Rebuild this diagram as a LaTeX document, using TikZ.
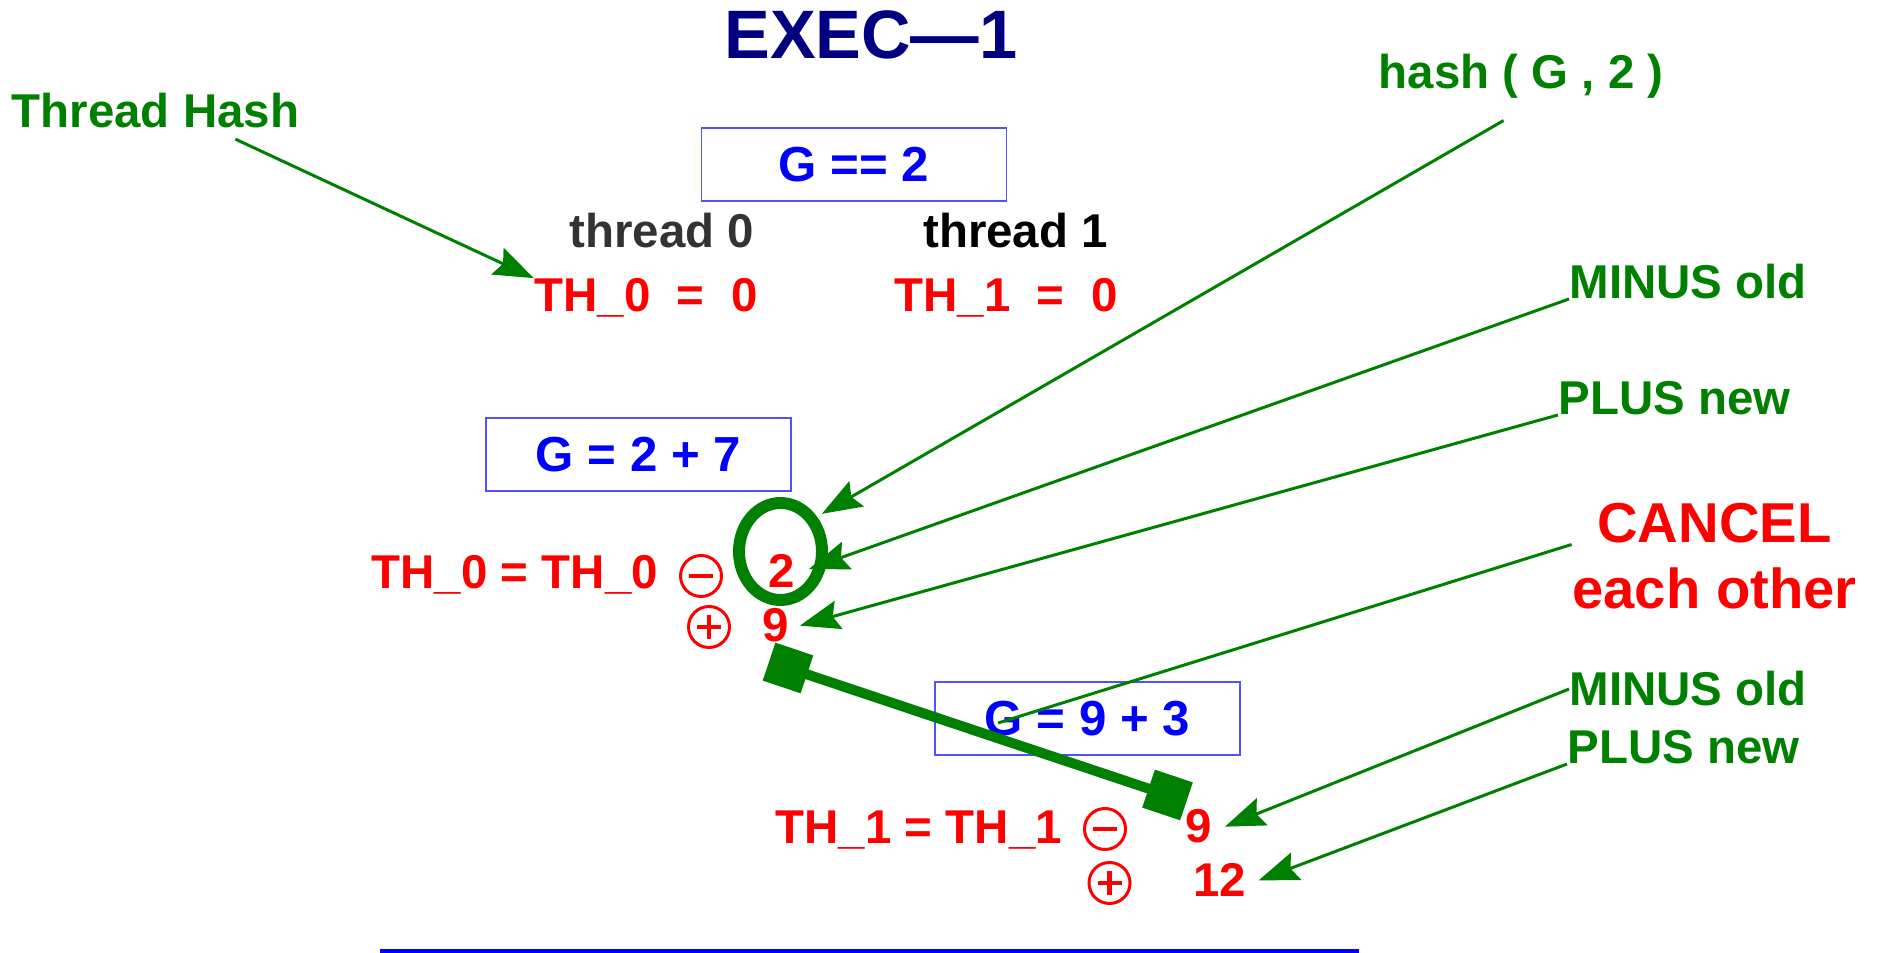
\documentclass[tikz,border=0pt]{standalone}
\usepackage{fontspec}
\setmainfont{Liberation Sans}
\usetikzlibrary{arrows.meta,shapes.geometric}
\definecolor{darkgreen}{HTML}{008000}
\definecolor{navytitle}{HTML}{000080}
\definecolor{boxblue}{HTML}{5050FF}
\definecolor{greytext}{HTML}{333333}

\begin{document}
\begin{tikzpicture}[scale=1]
    % styles
    \tikzset{
      note/.style      = {inner sep=0pt, text=darkgreen, font=\fontsize{13.5}{16}\selectfont\bfseries},
      redeq/.style     = {inner sep=0pt, text=red, font=\fontsize{13.5}{16}\selectfont\bfseries},
      thread/.style    = {inner sep=0pt, font=\fontsize{13.5}{16}\selectfont\bfseries},
      gbox/.style      = {draw=boxblue, line width=0.5pt, minimum width=3.05cm, minimum height=0.73cm,
                          inner sep=0pt, text=blue, font=\fontsize{14}{16}\selectfont\bfseries},
      pointer/.style   = {-{Stealth[length=4mm,width=2.9mm,inset=0.6mm]}, line width=0.85pt, draw=darkgreen},
      plainline/.style = {line width=0.85pt, draw=darkgreen},
      opcirc/.style    = {circle, draw=red, line width=0.85pt, minimum size=0.41cm, inner sep=0pt},
      minuscirc/.style = {opcirc, path picture={
          \draw[red, line width=1.4pt] ([xshift=-1.2mm]path picture bounding box.center)
                                    -- ([xshift=1.2mm]path picture bounding box.center);}},
      pluscirc/.style  = {opcirc, path picture={
          \draw[red, line width=1.4pt] ([xshift=-1.2mm]path picture bounding box.center)
                                    -- ([xshift=1.2mm]path picture bounding box.center);
          \draw[red, line width=1.4pt] ([yshift=-1.2mm]path picture bounding box.center)
                                    -- ([yshift=1.2mm]path picture bounding box.center);}},
      sqend/.style     = {fill=darkgreen, minimum size=0.4cm, inner sep=0pt, rotate=-18.5},
      cancelbar/.style = {line width=0.1cm, draw=darkgreen}
    }
    \useasboundingbox (0,0) rectangle (18.8,9.53);

    % Title and top labels:
    \node[anchor=base, inner sep=0pt, text=navytitle, font=\fontsize{19.5}{22}\selectfont\bfseries]
      (title) at (8.71,8.94) {EXEC—1};
    \node[note, anchor=base west] (threadhash) at (0.11,8.25) {Thread Hash};
    \node[note, anchor=base west] (hashlbl) at (13.78,8.64) {hash ( G , 2 )};

    % Start state:
    \node[gbox] (gstart) at (8.54,7.885) {G == 2};
    \node[thread, anchor=base, text=greytext] (thread0) at (6.62,7.05) {thread 0};
    \node[thread, anchor=base, text=black] (thread1) at (10.155,7.05) {thread 1};
    \node[redeq, anchor=base] (th0) at (6.46,6.41) {TH\_0\ \ =\ \ 0};
    \node[redeq, anchor=base] (th1) at (10.06,6.41) {TH\_1\ \ =\ \ 0};

    % Thread 0 update:
    \node[gbox] (gsum0) at (6.385,4.985) {G = 2 + 7};
    \node[ellipse, draw=darkgreen, line width=3.4pt, minimum width=0.83cm, minimum height=0.97cm,
          inner sep=0pt] (oval) at (7.805,4.015) {};
    \node[redeq, anchor=base west] (th0eq) at (3.71,3.64) {TH\_0 = TH\_0};
    \node[minuscirc] (minus0) at (7.01,3.77) {};
    \node[redeq, anchor=base] (two) at (7.82,3.65) {2};
    \node[pluscirc] (plus0) at (7.09,3.26) {};
    \node[redeq, anchor=base] (nine0) at (7.76,3.11) {9};

    % Thread 1 update:
    \node[gbox] (gsum1) at (10.875,2.345) {G = 9 + 3};
    \node[redeq, anchor=base west] (th1eq) at (7.75,1.09) {TH\_1 = TH\_1};
    \node[minuscirc] (minus1) at (11.05,1.24) {};
    \node[redeq, anchor=base] (nine1) at (11.99,1.10) {9};
    \node[pluscirc] (plus1) at (11.095,0.70) {};
    \node[redeq, anchor=base] (twelve) at (12.195,0.56) {12};

    % Cancel bar:
    \node[sqend] (sqa) at (7.88,2.85) {};
    \node[sqend] (sqb) at (11.675,1.58) {};
    \draw[cancelbar] (sqa.center) -- (sqb.center);

    % Right-hand notes:
    \node[note, anchor=base west] (minusA) at (15.69,6.54) {MINUS old};
    \node[note, anchor=base west] (plusA) at (15.58,5.38) {PLUS new};
    \node[align=center, inner sep=0pt, text=red, font=\fontsize{16}{18.8}\selectfont\bfseries]
      (cancel) at (17.145,3.965) {CANCEL\\each other};
    \node[note, anchor=base west] (minusB) at (15.69,2.47) {MINUS old};
    \node[note, anchor=base west] (plusB) at (15.67,1.89) {PLUS new};

    \coordinate (ovalr) at (8.09,3.84);
    \coordinate (gmark) at (9.98,2.30);

    % Pointers:
    \draw[pointer] ([shift={(0.8,-0.1)}]threadhash.south) -- (th0.north west);
    \draw[pointer] ([shift={(-0.175,-0.21)}]hashlbl.south) -- ([shift={(0.04,0.04)}]oval.42);
    \draw[pointer] (minusA.base west) -- (ovalr);
    \draw[pointer] (plusA.base west) -- ([xshift=1mm]nine0.east);
    \draw[plainline] ([yshift=1.2mm]cancel.west) -- (gmark);
    \draw[pointer] (minusB.west) -- ([xshift=1.2mm]nine1.east);
    \draw[pointer] (plusB.base west) -- ([xshift=1.2mm]twelve.east);

    % Bottom rule:
    \draw[blue, line width=1pt] (3.80,0.02) -- (13.59,0.02);
\end{tikzpicture}
\end{document}
